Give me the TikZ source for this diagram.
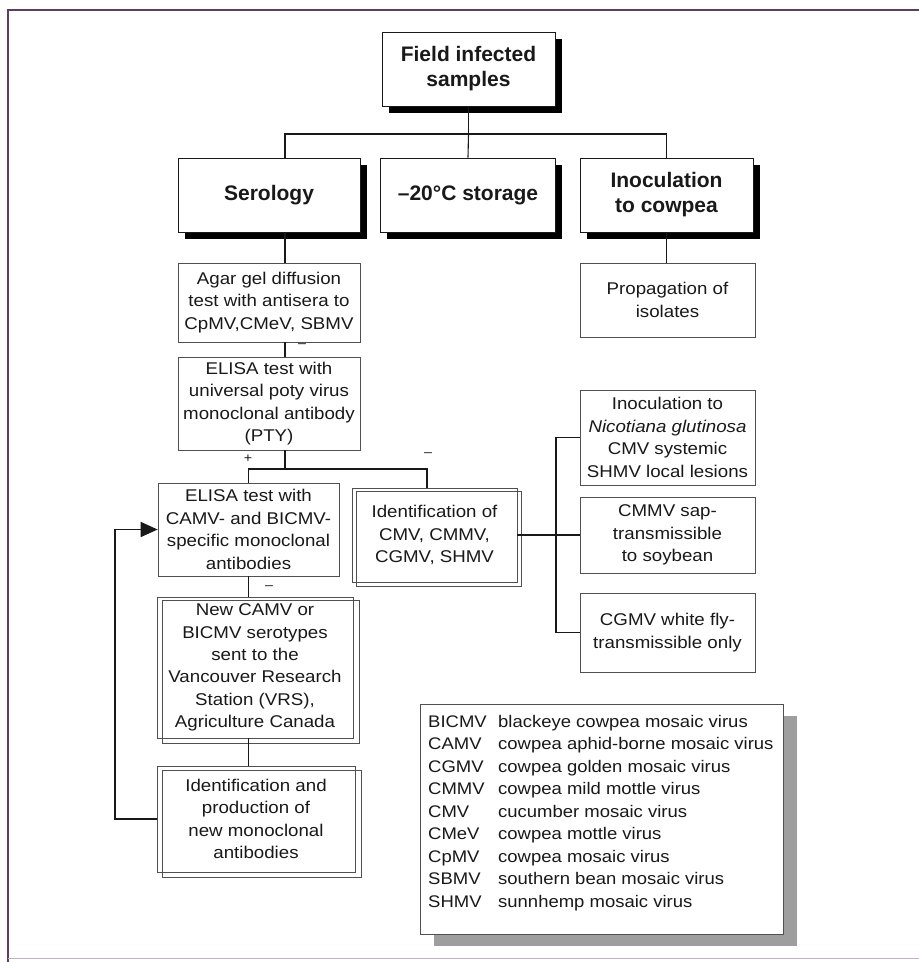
\documentclass[tikz,border=0pt]{standalone}
\usepackage{fontspec}
\setmainfont{Liberation Sans}
\newfontfamily\boxfont{Liberation Sans}[FakeStretch=1.1]
\usetikzlibrary{shadows,arrows.meta}
\definecolor{framecol}{RGB}{95,60,100}
\definecolor{ink}{RGB}{25,25,25}
\definecolor{boxline}{RGB}{80,80,80}
\begin{document}
\begin{tikzpicture}[x=1pt,y=-1pt,
  topbox/.style={draw=ink, line width=0.7pt, fill=white, inner sep=0pt, align=center, text=ink,
     font=\fontsize{21}{25}\selectfont\bfseries,
     drop shadow={shadow xshift=6.5pt, shadow yshift=-7pt, fill=black, opacity=1}},
  plainbox/.style={draw=boxline, line width=0.7pt, fill=white, inner sep=0pt, align=center, text=ink,
     font=\boxfont\fontsize{17}{22.4}\selectfont},
  ghost/.style={draw=boxline, line width=0.6pt},
  conn/.style={draw=ink, line width=1.1pt},
  sign/.style={inner sep=0pt, text=ink, font=\boxfont\fontsize{13}{14}\selectfont},
  legendbox/.style={draw=boxline, line width=0.7pt, fill=white, inner sep=0pt,
     drop shadow={shadow xshift=14pt, shadow yshift=-12pt, fill=black!38, opacity=1}},
  fbarrow/.style={draw=ink, line width=1.6pt, -{Triangle[length=17pt,width=15pt]}}
]
\useasboundingbox (0,0) rectangle (919,962);
\fill[white] (0,0) rectangle (919,962);
% outer frame
\draw[framecol, line width=1.2pt] (8,962) -- (8,10) -- (925,10);
\draw[framecol!40, line width=1pt] (8,958) -- (925,958);

% top level
\node[topbox, minimum width=173pt, minimum height=74pt] (field) at (468.5,69) {Field infected\\samples};
\node[topbox, minimum width=182pt, minimum height=74pt] (sero) at (269,195) {Serology};
\node[topbox, minimum width=175pt, minimum height=74pt] (stor) at (468,195) {–20°C storage};
\node[topbox, minimum width=173pt, minimum height=74pt] (inoc) at (666.5,195) {Inoculation\\to cowpea};

\coordinate (hub) at (468.5,134);
\coordinate (sx) at (285,134);
\draw[conn] (field.south) -- (hub);
\draw[conn] (sx |- sero.north) -- (sx) -- (hub) -| (inoc.north);
\draw[conn] (hub) -- (stor.north);

% left column
\node[plainbox, minimum width=182pt, minimum height=79pt] (agar) at (269,302.5) {Agar gel diffusion\\test with antisera to\\CpMV,CMeV, SBMV};
\node[plainbox, minimum width=182pt, minimum height=93pt] (pty) at (269,403.5) {ELISA test with\\universal poty virus\\monoclonal antibody\\(PTY)};
\draw[conn] (sx |- sero.south) -- (sx |- agar.north);
\draw[conn] (sx |- agar.south) -- (sx |- pty.north);
\node[sign] (m1) at (302,346) {–};

\node[plainbox, minimum width=181pt, minimum height=93pt] (elisa) at (248.5,529.5) {ELISA test with\\CAMV- and BICMV-\\specific monoclonal\\antibodies};
\node[plainbox, minimum width=165pt, minimum height=94pt] (ident) at (434.5,535) {Identification of\\CMV, CMMV,\\CGMV, SHMV};
\draw[ghost] ([shift={(5,4)}]ident.north west) rectangle ([shift={(4,4)}]ident.south east);

\coordinate (ix) at (427,469);
\draw[conn] (sx |- pty.south) -- (sx |- ix);
\draw[conn] (elisa.north) |- (ix) -- (ix |- ident.north);
\node[sign] (p1) at (248,459) {+};
\node[sign] (m2) at (428,455) {–};

\node[plainbox, minimum width=196pt, minimum height=141pt] (newsero) at (255,667.5) {New CAMV or\\BICMV serotypes\\sent to the\\Vancouver Research\\Station (VRS),\\Agriculture Canada};
\draw[ghost] ([shift={(6,4)}]newsero.north west) rectangle ([shift={(6,5)}]newsero.south east);
\node[plainbox, minimum width=198pt, minimum height=106pt] (prod) at (256,819) {Identification and\\production of\\new monoclonal\\antibodies};
\draw[ghost] ([shift={(6,5)}]prod.north west) rectangle ([shift={(6,5)}]prod.south east);

\draw[conn] (elisa.south) -- (elisa.south |- newsero.north);
\node[sign] (m3) at (269,588) {–};
\draw[conn] (elisa.south |- newsero.south) -- (elisa.south |- prod.north);

\coordinate (fb) at (115,0);
\draw[fbarrow] (prod.west) -- (prod.west -| fb) |- (elisa.west);

% right column
\node[plainbox, minimum width=175pt, minimum height=74pt] (prop) at (667.5,300) {Propagation of\\isolates};
\draw[conn] (inoc.south) -- (inoc.south |- prop.north);
\node[plainbox, minimum width=175pt, minimum height=95pt] (nic) at (667.5,437.5) {Inoculation to\\\textit{Nicotiana glutinosa}\\CMV systemic\\SHMV local lesions};
\node[plainbox, minimum width=175pt, minimum height=76pt] (cmmv) at (667.5,535) {CMMV sap-\\transmissible\\to soybean};
\node[plainbox, minimum width=175pt, minimum height=79pt] (cgmv) at (667.5,632.5) {CGMV white fly-\\transmissible only};

\coordinate (bx) at (556,0);
\draw[conn] (ident.east) -- (cmmv.west);
\draw[conn] (nic.west) -- (bx |- nic.west) -- (bx |- cgmv.west) -- (cgmv.west);

% legend
\node[legendbox, minimum width=363pt, minimum height=230pt] (legend) at (601.5,819) {};
\node[anchor=north west, inner sep=0pt, align=left, text=ink, font=\boxfont\fontsize{16.8}{22.5}\selectfont] (legtext) at (428,715) {%
\makebox[70pt][l]{BICMV}blackeye cowpea mosaic virus\\
\makebox[70pt][l]{CAMV}cowpea aphid-borne mosaic virus\\
\makebox[70pt][l]{CGMV}cowpea golden mosaic virus\\
\makebox[70pt][l]{CMMV}cowpea mild mottle virus\\
\makebox[70pt][l]{CMV}cucumber mosaic virus\\
\makebox[70pt][l]{CMeV}cowpea mottle virus\\
\makebox[70pt][l]{CpMV}cowpea mosaic virus\\
\makebox[70pt][l]{SBMV}southern bean mosaic virus\\
\makebox[70pt][l]{SHMV}sunnhemp mosaic virus};
\end{tikzpicture}
\end{document}
